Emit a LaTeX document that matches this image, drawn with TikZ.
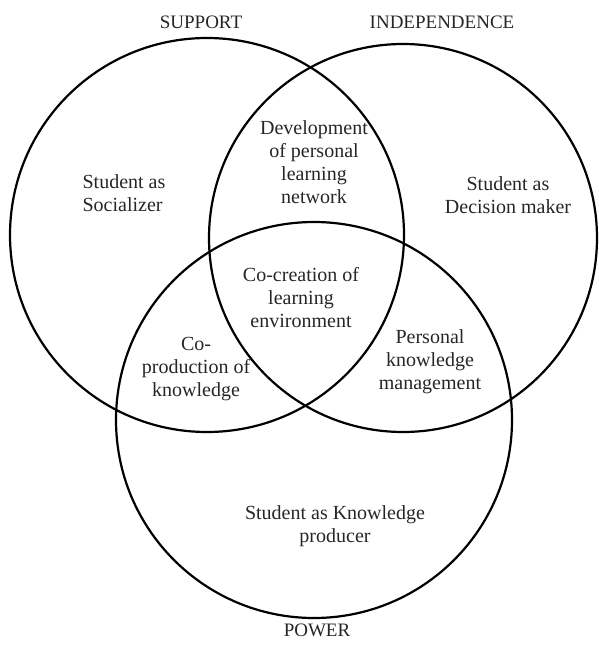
\documentclass[tikz,border=0pt]{standalone}
\usepackage{fontspec}
\setmainfont{Liberation Serif}
\begin{document}
\begin{tikzpicture}[x=1pt,y=-1pt,
  ring/.style={draw=black,line width=2.2pt},
  lbl/.style={font=\fontsize{20}{23}\selectfont,align=center,inner sep=0pt,text=black!85},
  title/.style={font=\fontsize{19}{23}\selectfont,inner sep=0pt,text=black!85}]
\useasboundingbox (0,0) rectangle (598,645);
\coordinate (cS) at (207,235);
\coordinate (cI) at (403,238);
\coordinate (cP) at (314,420);
\draw[ring] (cS) circle[radius=197pt];
\draw[ring] (cI) circle[radius=194pt];
\draw[ring] (cP) circle[radius=198pt];
\node[title] (support) at (201,22) {SUPPORT};
\node[title] (indep) at (442,22) {INDEPENDENCE};
\node[title] (power) at (317,630) {POWER};
\node[lbl,align=left] (soc) at (124,193) {Student as\\Socializer};
\node[lbl] (dev) at (314,162) {Development\\of personal\\learning\\network};
\node[lbl] (dec) at (508,195) {Student as\\Decision maker};
\node[lbl] (cocre) at (301,298) {Co-creation of\\learning\\environment};
\node[lbl] (coprod) at (196,369) {Co-\\production of\\knowledge};
\node[lbl] (pkm) at (430,362) {Personal\\knowledge\\management};
\node[lbl] (skp) at (335,526) {Student as Knowledge\\producer};
\end{tikzpicture}
\end{document}
